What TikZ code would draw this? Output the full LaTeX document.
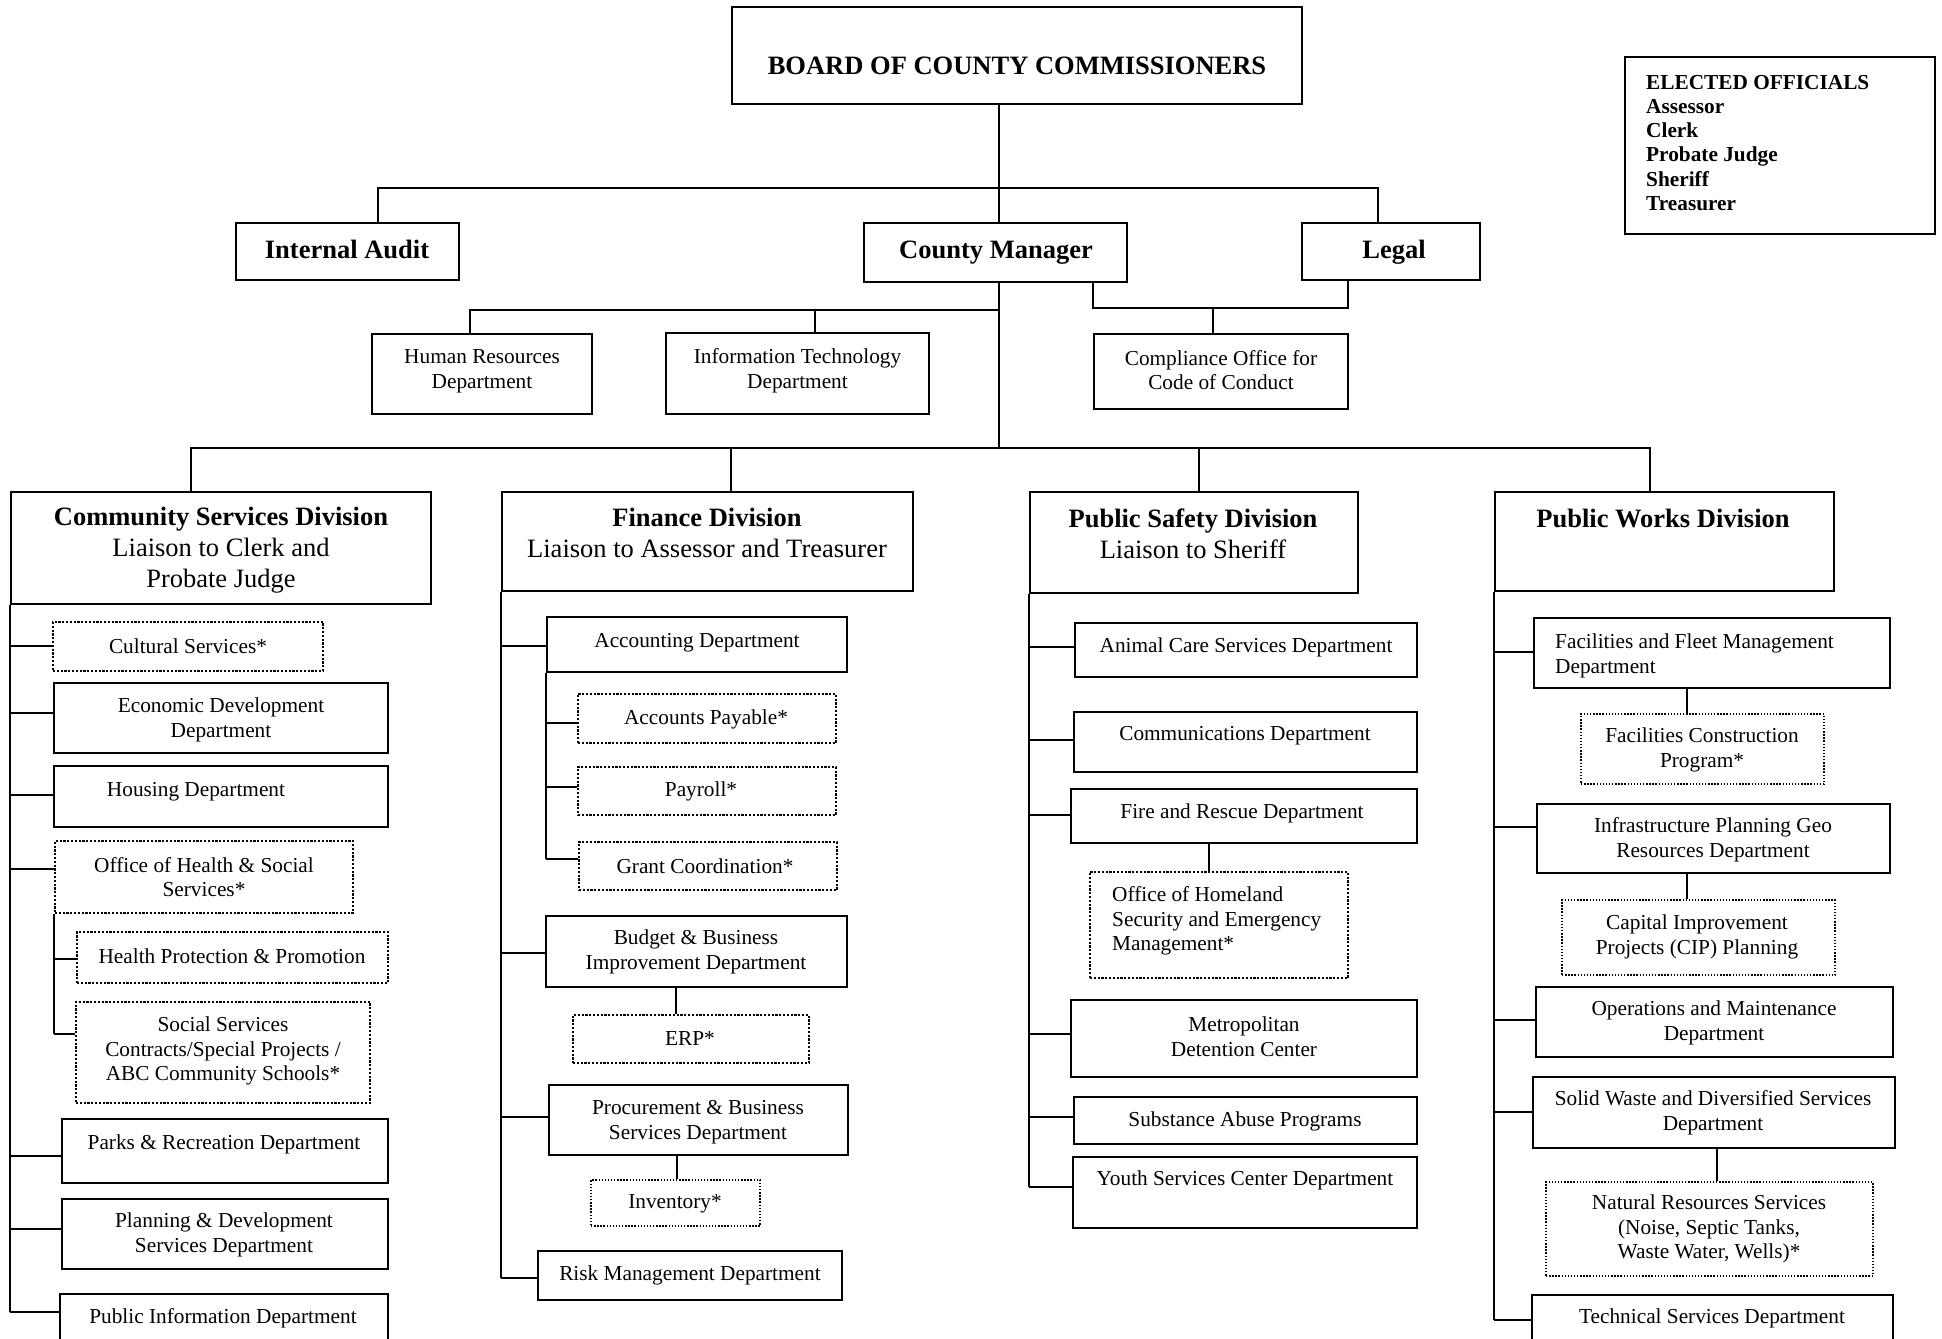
\documentclass[tikz,border=0pt]{standalone}
\usepackage{fontspec}
\setmainfont{Liberation Serif}
\tikzset{
  bx/.style={draw, line width=2pt, inner sep=0pt},
  dbx/.style={draw, line width=2.4pt, dash pattern=on 2.2pt off 1.6pt, inner sep=0pt},
  fbx/.style={draw, line width=1.4pt, dash pattern=on 1.4pt off 1.7pt, inner sep=0pt},
  txt/.style={inner sep=0pt, align=center, font=\fontsize{21.3}{24.7}\selectfont},
  ltxt/.style={inner sep=0pt, align=left, anchor=west, font=\fontsize{21.3}{24.7}\selectfont},
  big/.style={inner sep=0pt, align=center, font=\fontsize{26.5}{31}\selectfont},
  conn/.style={line width=2pt}
}
\newcommand\bx[6]{\node[#6, minimum width={(#4-#2)*1pt}, minimum height={(#5-#3)*1pt}] (#1) at ({(#2+#4)/2},{(#3+#5)/2}) {};}
\begin{document}
\begin{tikzpicture}[x=1pt,y=-1pt]
\fill[white] (0,0) rectangle (1942,1338);
\useasboundingbox (0,0) rectangle (1942,1338);

% top level
\bx{board}{732}{7}{1302}{104}{bx}
\node[big, font=\fontsize{26.5}{31}\selectfont\bfseries] (board-t) at (1017,65.5) {BOARD OF COUNTY COMMISSIONERS};
\bx{eo}{1625}{57}{1935}{234}{bx}
\node[inner sep=0pt, align=left, anchor=north west, font=\fontsize{21.3}{24.2}\selectfont\bfseries] (eo-t) at (1646,75) {ELECTED OFFICIALS\\Assessor\\Clerk\\Probate Judge\\Sheriff\\Treasurer};

\bx{ia}{236}{223}{459}{280}{bx}
\node[big, font=\fontsize{26.5}{31}\selectfont\bfseries] (ia-t) at (347,249.5) {Internal Audit};
\bx{cm}{864}{223}{1127}{282}{bx}
\node[big, font=\fontsize{26.5}{31}\selectfont\bfseries] (cm-t) at (996,252.5) {County Manager};
\bx{legal}{1302}{223}{1480}{280}{bx}
\node[big, font=\fontsize{26.5}{31}\selectfont\bfseries] (legal-t) at (1394,252.5) {Legal};

\bx{hr}{372}{334}{592}{414}{bx}
\node[txt] (hr-t) at (482,371) {Human Resources\\Department};
\bx{it}{666}{333}{929}{414}{bx}
\node[txt] (it-t) at (797.5,371) {Information Technology\\Department};
\bx{comp}{1094}{334}{1348}{409}{bx}
\node[txt] (comp-t) at (1221,370) {Compliance Office for\\Code of Conduct};

% connectors top
\draw[conn] (board.south -| 999,0) -- (cm.north -| 999,0);
\draw[conn] (ia.north -| 378,0) -- (378,188) -- (1378,188) -- (legal.north -| 1378,0);
\draw[conn] (cm.south -| 999,0) -- (999,448);
\draw[conn] (hr.north -| 470,0) -- (470,310) -- (999,310);
\draw[conn] (it.north -| 815,0) -- (815,310);
\draw[conn] (cm.south -| 1093,0) -- (1093,308) -- (1348,308) -- (legal.south -| 1348,0);
\draw[conn] (1213,308) -- (comp.north -| 1213,0);

% divisions
\bx{csd}{11}{492}{431}{604}{bx}
\node[big] (csd-t) at (221,550) {\textbf{Community Services Division}\\Liaison to Clerk and\\Probate Judge};
\bx{fin}{502}{492}{913}{591}{bx}
\node[big] (fin-t) at (707,533) {\textbf{Finance Division}\\Liaison to Assessor and Treasurer};
\bx{ps}{1030}{492}{1358}{593}{bx}
\node[big] (ps-t) at (1193,534) {\textbf{Public Safety Division}\\Liaison to Sheriff};
\bx{pw}{1495}{492}{1834}{591}{bx}
\node[big] (pw-t) at (1663,518) {\textbf{Public Works Division}};

\draw[conn] (csd.north -| 191,0) -- (191,448) -- (1650,448) -- (pw.north -| 1650,0);
\draw[conn] (731,448) -- (fin.north -| 731,0);
\draw[conn] (1199,448) -- (ps.north -| 1199,0);

% Community Services
\bx{cult}{53}{622}{323}{671}{dbx}
\node[txt] (cult-t) at (188,646) {Cultural Services*};
\bx{econ}{54}{683}{388}{753}{bx}
\node[txt] (econ-t) at (221,720) {Economic Development\\Department};
\bx{hous}{54}{766}{388}{827}{bx}
\node[txt] (hous-t) at (196,792) {Housing Department};
\bx{ohss}{55}{841}{353}{913}{dbx}
\node[txt] (ohss-t) at (204,877) {Office of Health \& Social\\Services*};
\bx{hpp}{77}{932}{388}{983}{dbx}
\node[txt] (hpp-t) at (232,956) {Health Protection \& Promotion};
\bx{ssc}{76}{1002}{370}{1103}{dbx}
\node[txt] (ssc-t) at (223,1051) {Social Services\\Contracts/Special Projects /\\ABC Community Schools*};
\bx{parks}{62}{1119}{388}{1183}{bx}
\node[txt] (parks-t) at (224,1144) {Parks \& Recreation Department};
\bx{plan}{62}{1199}{388}{1269}{bx}
\node[txt] (plan-t) at (224,1235) {Planning \& Development\\Services Department};
\bx{pinfo}{60}{1294}{388}{1360}{bx}
\node[txt] (pinfo-t) at (223,1318) {Public Information Department};

\draw[conn] (csd.south west) -- (csd.south west |- 0,1312);
\draw[conn] (csd.south west |- 0,646) -- (cult.west |- 0,646);
\draw[conn] (csd.south west |- 0,713) -- (econ.west |- 0,713);
\draw[conn] (csd.south west |- 0,795) -- (hous.west |- 0,795);
\draw[conn] (csd.south west |- 0,869) -- (ohss.west |- 0,869);
\draw[conn] (csd.south west |- 0,1156) -- (parks.west |- 0,1156);
\draw[conn] (csd.south west |- 0,1229) -- (plan.west |- 0,1229);
\draw[conn] (csd.south west |- 0,1312) -- (pinfo.west |- 0,1312);
\draw[conn] (ohss.south west) -- (ohss.south west |- 0,1034);
\draw[conn] (ohss.south west |- 0,959) -- (hpp.west |- 0,959);
\draw[conn] (ohss.south west |- 0,1034) -- (ssc.west |- 0,1034);

% Finance
\bx{acct}{547}{617}{847}{672}{bx}
\node[txt] (acct-t) at (697,643) {Accounting Department};
\bx{ap}{578}{694}{836}{743}{dbx}
\node[txt] (ap-t) at (706,719) {Accounts Payable*};
\bx{pay}{578}{767}{836}{815}{dbx}
\node[txt] (pay-t) at (701,791) {Payroll*};
\bx{grant}{579}{842}{837}{890}{dbx}
\node[txt] (grant-t) at (705,866) {Grant Coordination*};
\bx{budget}{546}{916}{847}{987}{bx}
\node[txt] (budget-t) at (696,952) {Budget \& Business\\Improvement Department};
\bx{erp}{573}{1015}{809}{1063}{dbx}
\node[txt] (erp-t) at (690,1039) {ERP*};
\bx{proc}{549}{1085}{848}{1155}{bx}
\node[txt] (proc-t) at (698,1122) {Procurement \& Business\\Services Department};
\bx{inv}{591}{1180}{760}{1226}{fbx}
\node[txt] (inv-t) at (675,1204) {Inventory*};
\bx{risk}{538}{1251}{842}{1300}{bx}
\node[txt] (risk-t) at (690,1275) {Risk Management Department};

\draw[conn] (fin.south west) -- (fin.south west |- 0,1278);
\draw[conn] (fin.south west |- 0,646) -- (acct.west |- 0,646);
\draw[conn] (fin.south west |- 0,953) -- (budget.west |- 0,953);
\draw[conn] (fin.south west |- 0,1117) -- (proc.west |- 0,1117);
\draw[conn] (fin.south west |- 0,1278) -- (risk.west |- 0,1278);
\draw[conn] (acct.south west) -- (acct.south west |- 0,859);
\draw[conn] (acct.south west |- 0,723) -- (ap.west |- 0,723);
\draw[conn] (acct.south west |- 0,787) -- (pay.west |- 0,787);
\draw[conn] (acct.south west |- 0,859) -- (grant.west |- 0,859);
\draw[conn] (budget.south -| 676,0) -- (erp.north -| 676,0);
\draw[conn] (proc.south -| 677,0) -- (inv.north -| 677,0);

% Public Safety
\bx{animal}{1075}{623}{1417}{677}{bx}
\node[txt] (animal-t) at (1246,647) {Animal Care Services Department};
\bx{comms}{1074}{712}{1417}{772}{bx}
\node[txt] (comms-t) at (1245,736) {Communications Department};
\bx{fire}{1071}{789}{1417}{843}{bx}
\node[txt] (fire-t) at (1242,813) {Fire and Rescue Department};
\bx{home}{1090}{872}{1348}{978}{dbx}
\node[ltxt] (home-t) at (1112,921) {Office of Homeland\\Security and Emergency\\Management*};
\bx{metro}{1071}{1000}{1417}{1077}{bx}
\node[txt] (metro-t) at (1244,1037) {Metropolitan\\Detention Center};
\bx{subst}{1074}{1097}{1417}{1144}{bx}
\node[txt] (subst-t) at (1245,1121) {Substance Abuse Programs};
\bx{youth}{1073}{1157}{1417}{1228}{bx}
\node[txt] (youth-t) at (1245,1180) {Youth Services Center Department};

\draw[conn] (ps.south west) -- (ps.south west |- 0,1187);
\draw[conn] (ps.south west |- 0,647) -- (animal.west |- 0,647);
\draw[conn] (ps.south west |- 0,740) -- (comms.west |- 0,740);
\draw[conn] (ps.south west |- 0,815) -- (fire.west |- 0,815);
\draw[conn] (ps.south west |- 0,1034) -- (metro.west |- 0,1034);
\draw[conn] (ps.south west |- 0,1117) -- (subst.west |- 0,1117);
\draw[conn] (ps.south west |- 0,1187) -- (youth.west |- 0,1187);
\draw[conn] (fire.south -| 1209,0) -- (home.north -| 1209,0);

% Public Works
\bx{ffm}{1534}{618}{1890}{688}{bx}
\node[ltxt] (ffm-t) at (1555,656) {Facilities and Fleet Management\\Department};
\bx{fcp}{1581}{714}{1824}{784}{fbx}
\node[txt] (fcp-t) at (1702,750) {Facilities Construction\\Program*};
\bx{ipg}{1537}{804}{1890}{873}{bx}
\node[txt] (ipg-t) at (1713,840) {Infrastructure Planning Geo\\Resources Department};
\bx{cip}{1562}{900}{1835}{975}{fbx}
\node[txt] (cip-t) at (1697,937) {Capital Improvement\\Projects (CIP) Planning};
\bx{om}{1536}{987}{1893}{1057}{bx}
\node[txt] (om-t) at (1714,1023) {Operations and Maintenance\\Department};
\bx{sw}{1533}{1077}{1895}{1148}{bx}
\node[txt] (sw-t) at (1713,1113) {Solid Waste and Diversified Services\\Department};
\bx{nr}{1546}{1182}{1873}{1276}{fbx}
\node[txt] (nr-t) at (1709,1229) {Natural Resources Services\\(Noise, Septic Tanks,\\Waste Water, Wells)*};
\bx{tech}{1532}{1295}{1893}{1360}{bx}
\node[txt] (tech-t) at (1712,1318) {Technical Services Department};

\draw[conn] (pw.south west) -- (pw.south west |- 0,1320);
\draw[conn] (pw.south west |- 0,652) -- (ffm.west |- 0,652);
\draw[conn] (pw.south west |- 0,827) -- (ipg.west |- 0,827);
\draw[conn] (pw.south west |- 0,1020) -- (om.west |- 0,1020);
\draw[conn] (pw.south west |- 0,1112) -- (sw.west |- 0,1112);
\draw[conn] (pw.south west |- 0,1320) -- (tech.west |- 0,1320);
\draw[conn] (ffm.south -| 1687,0) -- (fcp.north -| 1687,0);
\draw[conn] (ipg.south -| 1687,0) -- (cip.north -| 1687,0);
\draw[conn] (sw.south -| 1717,0) -- (nr.north -| 1717,0);
\end{tikzpicture}
\end{document}
